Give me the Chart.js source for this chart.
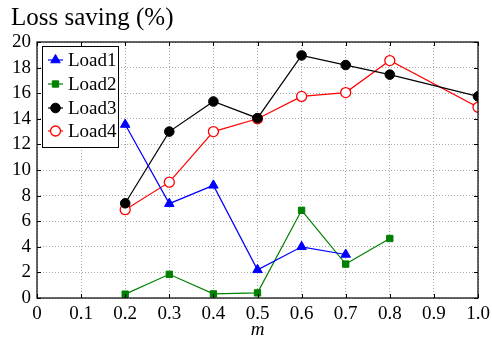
<!DOCTYPE html>
<html><head><meta charset="utf-8">
<script src="https://cdn.jsdelivr.net/npm/chart.js@4/dist/chart.umd.min.js"></script>
<style>html,body{margin:0;padding:0;background:#fff}#wrap{width:492px;height:339px}</style>
</head><body><div id="wrap"><canvas id="c" width="492" height="339"></canvas></div>
<script>
const xTicks = [0,0.1,0.2,0.3,0.4,0.5,0.6,0.7,0.8,0.9,1.0];
const load1X = [0.2,0.3,0.4,0.5,0.6,0.7];
const load1Y = [13.55,7.37,8.8,2.2,4.0,3.4];
const load2X = [0.2,0.3,0.4,0.5,0.6,0.7,0.8];
const load2Y = [0.3,1.85,0.32,0.4,6.85,2.65,4.65];
const load3X = [0.2,0.3,0.4,0.5,0.6,0.7,0.8,1.0];
const load3Y = [7.4,13.0,15.35,14.05,18.95,18.2,17.45,15.75];
const load4X = [0.2,0.3,0.4,0.5,0.6,0.7,0.8,1.0];
const load4Y = [6.9,9.05,13.0,14.0,15.75,16.05,18.55,14.9];
const labels = ['Load1','Load2','Load3','Load4'];
const FONT = "'Liberation Serif', 'DejaVu Serif', serif";

function pts(xs, ys){ return xs.map((x,i)=>({x:x,y:ys[i]})); }

const datasets = [
  {label:labels[0], data:pts(load1X,load1Y), borderColor:'#0000ff', backgroundColor:'#0000ff', pointStyle:'triangle', pointRadius:5.5, pointBorderWidth:1},
  {label:labels[1], data:pts(load2X,load2Y), borderColor:'#008000', backgroundColor:'#008000', pointStyle:'rect', pointRadius:4.5, pointBorderWidth:1},
  {label:labels[2], data:pts(load3X,load3Y), borderColor:'#000000', backgroundColor:'#000000', pointStyle:'circle', pointRadius:4.8, pointBorderWidth:1},
  {label:labels[3], data:pts(load4X,load4Y), borderColor:'#ff0000', backgroundColor:'#ffffff', pointStyle:'circle', pointRadius:5, pointBorderWidth:1.3},
].map(d=>Object.assign({borderWidth:1.2, tension:0, fill:false, pointHoverRadius:d.pointRadius}, d));

const framePlugin = {
  id:'frame',
  afterDraw(chart){
    const ctx = chart.ctx, a = chart.chartArea;
    const xs = chart.scales.x, ys = chart.scales.y;
    ctx.save();
    ctx.strokeStyle = '#000'; ctx.lineWidth = 1.2; ctx.setLineDash([]);
    ctx.strokeRect(a.left, a.top, a.right-a.left, a.bottom-a.top);
    ctx.lineWidth = 1;
    ctx.beginPath();
    xTicks.forEach(v=>{ const p = Math.round(xs.getPixelForValue(v))+0.5;
      ctx.moveTo(p,a.bottom); ctx.lineTo(p,a.bottom-4); ctx.moveTo(p,a.top); ctx.lineTo(p,a.top+4); });
    for(let v=0; v<=20; v+=2){ const p = Math.round(ys.getPixelForValue(v))+0.5;
      ctx.moveTo(a.left,p); ctx.lineTo(a.left+4,p); ctx.moveTo(a.right,p); ctx.lineTo(a.right-4,p); }
    ctx.stroke();
    // title
    ctx.fillStyle = '#000'; ctx.font = "25px " + FONT; ctx.textBaseline = 'alphabetic'; ctx.textAlign='left';
    ctx.fillText('Loss saving (%)', 11, 25);
    // legend
    const lx = 42, ly = 46, lw = 76, lh = 101;
    ctx.fillStyle = '#fff'; ctx.fillRect(lx, ly, lw, lh);
    ctx.strokeStyle = '#000'; ctx.lineWidth = 1; ctx.strokeRect(lx+0.5, ly+0.5, lw, lh);
    const rows = [60, 84, 108, 131];
    chart.data.datasets.forEach((d,i)=>{
      const y = rows[i];
      ctx.strokeStyle = d.borderColor; ctx.lineWidth = 1.2; ctx.setLineDash([]);
      ctx.beginPath(); ctx.moveTo(48, y); ctx.lineTo(63, y); ctx.stroke();
      ctx.fillStyle = d.backgroundColor; ctx.strokeStyle = d.borderColor; ctx.lineWidth = d.pointBorderWidth;
      Chart.helpers.drawPoint(ctx, {pointStyle:d.pointStyle, radius:d.pointRadius, borderWidth:d.pointBorderWidth, rotation:0}, 55.5, y);
      ctx.fillStyle = '#000'; ctx.font = "19px " + FONT; ctx.textBaseline='middle';
      ctx.fillText(d.label, 68, y+1);
    });
    ctx.restore();
  }
};

new Chart(document.getElementById('c'), {
  type:'line',
  data:{datasets:datasets},
  plugins:[framePlugin],
  options:{
    responsive:false, animation:false, devicePixelRatio:1,
    layout:{padding:{top:42,left:0,right:14,bottom:0}},
    plugins:{legend:{display:false}, tooltip:{enabled:false}, title:{display:false}},
    scales:{
      x:{type:'linear', min:0, max:1,
        afterBuildTicks(s){ s.ticks = xTicks.map(v=>({value:v})); },
        afterFit(s){ s.height = 41; s.paddingRight = 0; s.paddingLeft = 0; },
        ticks:{padding:5, color:'#000', font:{family:FONT, size:19}, maxRotation:0, autoSkip:false,
          callback(v){ return v===0 ? '0' : (v===1 ? '1.0' : v.toFixed(1)); }},
        grid:{color:'#a8a8a8', drawTicks:false, lineWidth:1},
        border:{display:false, dash:[1,2]},
        title:{display:true, text:'m', color:'#000', font:{family:FONT, size:19, style:'italic', lineHeight:1}, padding:{top:0,bottom:0}}
      },
      y:{min:0, max:20,
        afterFit(s){ s.width = 37; s.paddingTop = 0; s.paddingBottom = 0; },
        ticks:{stepSize:2, padding:6, color:'#000', font:{family:FONT, size:19}, autoSkip:false},
        grid:{color:'#a8a8a8', drawTicks:false, lineWidth:1},
        border:{display:false, dash:[1,2]}
      }
    }
  }
});
</script></body></html>
